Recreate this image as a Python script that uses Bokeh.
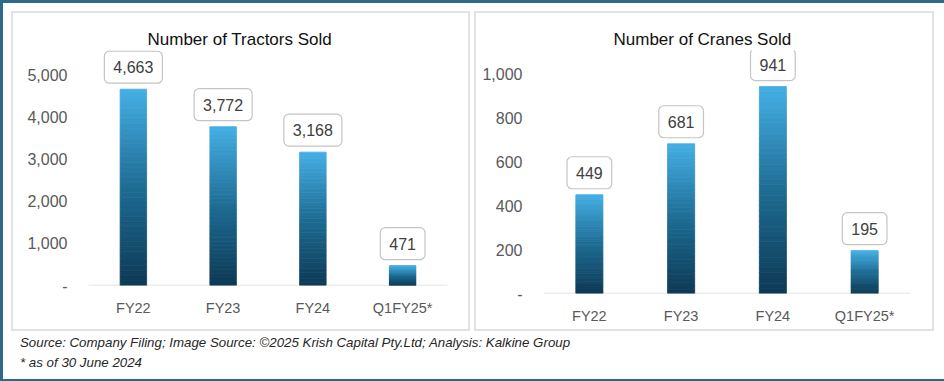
from bokeh.plotting import figure
from bokeh.models import Range1d, FixedTicker, Label, ColumnDataSource, Div
from bokeh.layouts import row, column
from bokeh.embed import file_html
from bokeh.resources import INLINE

# ---------------- data ----------------
categories = ["FY22", "FY23", "FY24", "Q1FY25*"]
tractors_sold = [4663, 3772, 3168, 471]
cranes_sold = [449, 681, 941, 195]
tractor_ticks = [0, 1000, 2000, 3000, 4000, 5000]
tractor_tick_labels = ["-", "1,000", "2,000", "3,000", "4,000", "5,000"]
crane_ticks = [0, 200, 400, 600, 800, 1000]
crane_tick_labels = ["-", "200", "400", "600", "800", "1,000"]
title_tractors = "Number of Tractors Sold"
title_cranes = "Number of Cranes Sold"
footer_source = "Source: Company Filing; Image Source: ©2025 Krish Capital Pty.Ltd; Analysis: Kalkine Group"
footer_note = "* as of 30 June 2024"

# ---------------- style ----------------
FONT = "Liberation Sans"
STOPS = [(0.0, (69, 175, 228)), (0.5, (30, 108, 148)), (1.0, (13, 57, 84))]  # 0 = top of bar


def grad_color(t):
    for (t0, c0), (t1, c1) in zip(STOPS[:-1], STOPS[1:]):
        if t <= t1:
            f = (t - t0) / (t1 - t0)
            c = [round(a + (b - a) * f) for a, b in zip(c0, c1)]
            return "#%02x%02x%02x" % tuple(c)
    return "#%02x%02x%02x" % STOPS[-1][1]


def make_panel(title, values, ticks, tick_labels, ystart, yend, width, height,
               mb_left, mb_right, mb_top, mb_bottom, title_offset, xlabel_standoff):
    n_cat = len(categories)
    p = figure(width=width, height=height,
               x_range=Range1d(-0.5, n_cat - 0.5), y_range=Range1d(ystart, yend),
               output_backend="svg", toolbar_location=None, frame_align=False,
               min_border_left=mb_left, min_border_right=mb_right,
               min_border_top=mb_top, min_border_bottom=mb_bottom,
               styles={"border": "2px solid #e2e2e2", "box-sizing": "border-box"})
    p.background_fill_color = "white"
    p.border_fill_color = "white"
    p.outline_line_color = None
    p.grid.visible = False

    # category baseline at value 0
    p.segment(x0=[-0.5], y0=[0], x1=[n_cat - 0.5], y1=[0],
              line_color="#d9d9d9", line_width=1.3)

    # gradient bars built from stacked slices of each value
    nseg = 40
    d = dict(x=[], bottom=[], top=[], color=[])
    for i, v in enumerate(values):
        for k in range(nseg):
            d["x"].append(i)
            d["bottom"].append(v * k / nseg)
            d["top"].append(v * (k + 1) / nseg)
            d["color"].append(grad_color(1 - (k + 0.5) / nseg))
    p.vbar(x="x", bottom="bottom", top="top", width=0.295, fill_color="color",
           line_color="color", line_width=0.8, source=ColumnDataSource(d))

    for i, v in enumerate(values):
        p.add_layout(Label(x=i, y=v, text=f"{v:,}", text_align="center",
                           text_baseline="bottom", y_offset=6,
                           text_font=FONT, text_font_size="16px", text_color="#404040",
                           background_fill_color="white", border_line_color="#c4c4c4",
                           border_line_width=1.2, border_radius=5,
                           padding=dict(left=9, right=9, top=10, bottom=10)))

    # axes
    p.xaxis.ticker = FixedTicker(ticks=list(range(n_cat)))
    p.xaxis.major_label_overrides = {i: c for i, c in enumerate(categories)}
    p.xaxis.axis_line_color = None
    p.xaxis.major_tick_line_color = None
    p.xaxis.minor_tick_line_color = None
    p.xaxis.major_tick_out = 0
    p.xaxis.major_tick_in = 0
    p.xaxis.major_label_standoff = xlabel_standoff
    p.xaxis.major_label_text_font = FONT
    p.xaxis.major_label_text_font_size = "14.5px"
    p.xaxis.major_label_text_color = "#595959"

    p.yaxis.ticker = FixedTicker(ticks=ticks)
    p.yaxis.major_label_overrides = {t: l for t, l in zip(ticks, tick_labels)}
    p.yaxis.axis_line_color = None
    p.yaxis.major_tick_line_color = None
    p.yaxis.minor_tick_line_color = None
    p.yaxis.major_tick_out = 0
    p.yaxis.major_tick_in = 0
    p.yaxis.major_label_standoff = 21
    p.yaxis.major_label_text_font = FONT
    p.yaxis.major_label_text_font_size = "16px"
    p.yaxis.major_label_text_color = "#595959"

    p.title.text = title
    p.title.align = "left"
    p.title.offset = title_offset
    p.title.standoff = 4
    p.title.text_font = FONT
    p.title.text_font_size = "17px"
    p.title.text_font_style = "normal"
    p.title.text_color = "#111111"
    return p


pL = make_panel(title_tractors, tractors_sold, tractor_ticks, tractor_tick_labels, 0, 5582,
                459, 320, 75, 25, 37, 48, 59, 14)
pR = make_panel(title_cranes, cranes_sold, crane_ticks, crane_tick_labels, 0, 1105,
                460, 320, 67, 26, 37, 40, 70, 14)

footer = Div(text=f"<div>{footer_source}</div><div>{footer_note}</div>",
             width=923, height=41,
             styles={"font-family": FONT, "font-style": "italic", "font-size": "13.3px",
                     "line-height": "20px", "padding-top": "0px", "padding-left": "4px",
                     "margin-top": "2px", "color": "#262626"})

layout = column(row(pL, pR, spacing=4), footer,
                styles={"border": "3px solid #2b6a8b", "padding": "8px 7px 0px 8px",
                        "background-color": "white"})

open("out.html", "w").write(file_html(layout, INLINE))
